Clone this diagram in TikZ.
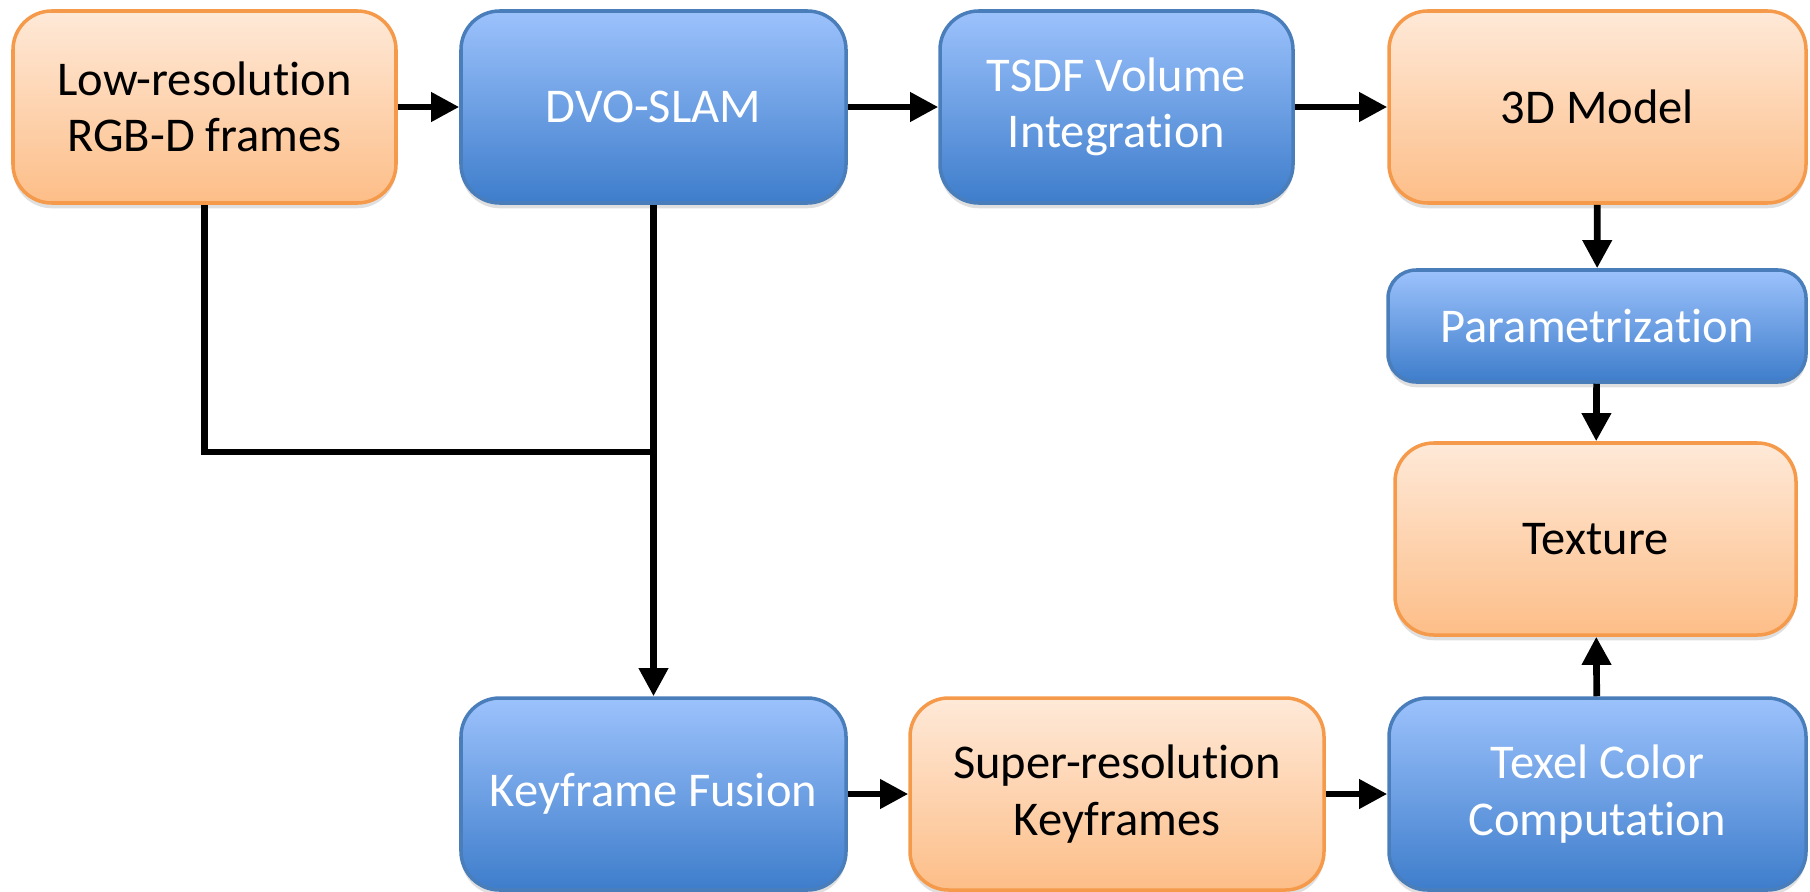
\documentclass[tikz,border=0pt]{standalone}
\usepackage{fontspec}
\setmainfont{Carlito}[Ligatures=NoCommon]
\usetikzlibrary{arrows.meta,shadows}
\definecolor{orangetop}{HTML}{FEE9D8}
\definecolor{orangebot}{HTML}{FDBE88}
\definecolor{orangeline}{HTML}{F59A4A}
\definecolor{bluetop}{HTML}{9CC2FC}
\definecolor{bluebot}{HTML}{3E7DCB}
\definecolor{blueline}{HTML}{4A7EBB}
\begin{document}
\begin{tikzpicture}[
    box/.style={rounded corners=11pt, line width=1pt, align=center,
      inner sep=0pt, font=\fontsize{13.8}{16}\selectfont,
      drop shadow={opacity=0.25, shadow xshift=0pt, shadow yshift=-1.5pt}},
    orangebox/.style={box, draw=orangeline, top color=orangetop,
      bottom color=orangebot, text=black},
    bluebox/.style={box, draw=blueline, top color=bluetop,
      bottom color=bluebot, text=white},
    arr/.style={line width=1.9pt, -{Triangle[length=8pt,width=8pt]}}]
      \useasboundingbox (0,0) rectangle (18.1,8.91);
      % top row
      \node[orangebox, minimum width=3.83cm, minimum height=1.92cm] (low)
      at (2.045,7.84) {Low-resolution\\RGB-D frames};
      \node[bluebox, minimum width=3.85cm, minimum height=1.92cm] (dvo)
      at (6.535,7.84) {DVO-SLAM};
      \node[bluebox, minimum width=3.53cm, minimum height=1.92cm] (tsdf)
      at (11.165,7.84) {TSDF Volume\\Integration};
      \node[orangebox, minimum width=4.17cm, minimum height=1.92cm] (model)
      at (15.975,7.84) {3D Model};
      % right column
      \node[bluebox, minimum width=4.18cm, minimum height=1.12cm,
      rounded corners=8pt] (param) at (15.97,5.65) {Parametrization};
      \node[orangebox, minimum width=4.01cm, minimum height=1.92cm] (texture)
      at (15.955,3.52) {Texture};
      % bottom row
      \node[bluebox, minimum width=3.85cm, minimum height=1.92cm] (fusion)
      at (6.535,0.97) {Keyframe Fusion};
      \node[orangebox, minimum width=4.14cm, minimum height=1.92cm] (superres)
      at (11.17,0.97) {Super-resolution\\Keyframes};
      \node[bluebox, minimum width=4.17cm, minimum height=1.92cm] (texel)
      at (15.975,0.97) {Texel Color\\Computation};
      \coordinate (join) at (6.535,4.39);
      % connectors
      \draw[arr] (low) -- (dvo);
      \draw[arr] (dvo) -- (tsdf);
      \draw[arr] (tsdf) -- (model);
      \draw[arr] (model) -- (param);
      \draw[arr] (param) -- (texture);
      \draw[arr] (texel) -- (texture);
      \draw[arr] (fusion) -- (superres);
      \draw[arr] (superres) -- (texel);
      \draw[line width=1.9pt] (low.south) |- (join);
      \draw[arr] (dvo) -- (fusion);
    \end{tikzpicture}
\end{document}
